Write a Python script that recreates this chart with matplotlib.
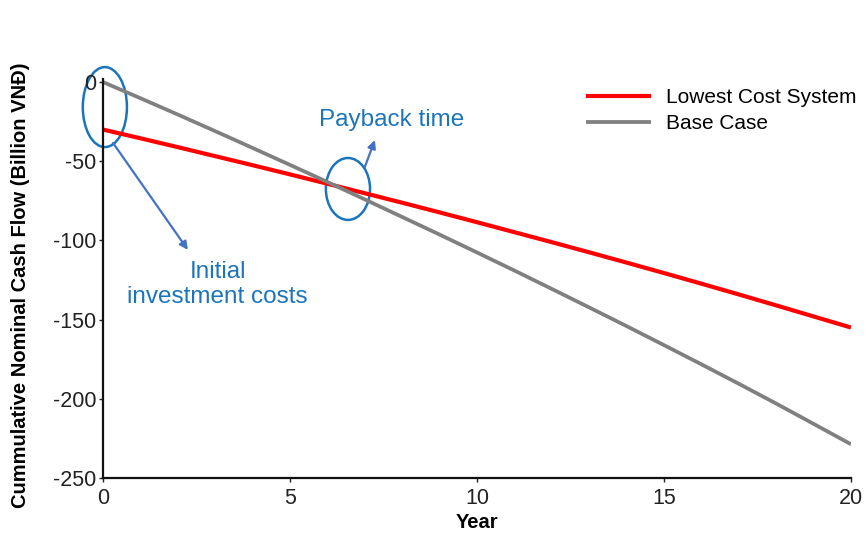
import numpy
import matplotlib
matplotlib.use("Agg")
import matplotlib.pyplot
from matplotlib.patches import Ellipse

outfile = "out.png"

years = list(range(0, 21))
# cumulative nominal cash flow, billion VND
lowest_cost = [-30.0, -35.5, -41.1, -46.8, -52.5, -58.3, -64.2, -70.2, -76.2, -82.3,
               -88.5, -94.8, -101.1, -107.5, -114.0, -120.6, -127.3, -134.1, -141.0,
               -148.0, -155.0]
base_case = [0.0, -10.2, -20.5, -31.0, -41.6, -52.3, -63.1, -74.1, -85.2, -96.3,
             -107.6, -119.0, -130.6, -142.3, -154.1, -166.1, -178.2, -190.5, -203.0,
             -215.8, -228.7]
series_labels = ["Lowest Cost System", "Base Case"]
x_ticks = [0, 5, 10, 15, 20]
y_ticks = [0, -50, -100, -150, -200, -250]

matplotlib.pyplot.rcParams["font.family"] = ["Liberation Sans", "DejaVu Sans"]
matplotlib.pyplot.rcParams["axes.unicode_minus"] = False
blue = "#1c75bc"
arrow_blue = "#4472c4"

fig = matplotlib.pyplot.figure(figsize=(8.67, 5.33), dpi=100)
ax = fig.add_axes([0.1188, 0.1032, 0.8627, 0.7488])

l1, = ax.plot(years, lowest_cost, color="#ff0000", lw=3.0, solid_capstyle="butt")
l2, = ax.plot(years, base_case, color="#808080", lw=2.7, solid_capstyle="butt")

ax.set_xlim(0, 20)
ax.set_ylim(-250, 2)
ax.set_xticks(x_ticks)
ax.set_yticks(y_ticks)
ax.tick_params(labelsize=15.5, length=3, width=1, colors="#222222")
ax.tick_params(axis="y", pad=2)
ax.tick_params(axis="x", pad=4)
for side in ["top", "right"]:
    ax.spines[side].set_visible(False)
for side in ["left", "bottom"]:
    ax.spines[side].set_linewidth(1.6)
    ax.spines[side].set_color("#111111")

ax.set_xlabel("Year", fontsize=14.5, fontweight="bold", labelpad=3)
fig.text(0.024, 0.465, "Cummulative Nominal Cash Flow (Billion VNĐ)", rotation=90,
         fontsize=14.5, fontweight="bold", ha="center", va="center")

fig.legend([l1, l2], series_labels, loc="upper left", bbox_to_anchor=(0.676, 0.835),
           frameon=False, fontsize=15, handlelength=3.1, handletextpad=0.75,
           labelspacing=0.35, borderpad=0, borderaxespad=0)

# circled regions with arrows and notes
ax.add_patch(Ellipse((0.05, -15.8), 1.18, 50.5, fill=False, edgecolor=blue,
                     lw=1.8, clip_on=False))
ax.add_patch(Ellipse((6.55, -67.5), 1.18, 39.1, fill=False, edgecolor=blue,
                     lw=1.8, clip_on=False))
ax.annotate("", xy=(2.27, -106), xytext=(0.27, -38.5),
            arrowprops=dict(arrowstyle="-|>", color=arrow_blue, lw=1.6,
                            mutation_scale=12, shrinkA=0, shrinkB=0))
ax.annotate("", xy=(7.27, -36.6), xytext=(7.0, -53.7),
            arrowprops=dict(arrowstyle="-|>", color=arrow_blue, lw=1.6,
                            mutation_scale=12, shrinkA=0, shrinkB=0))
ax.text(3.07, -128, "Initial\ninvestment costs", color=blue, fontsize=17.5,
        ha="center", va="center", linespacing=1.15)
ax.text(7.73, -24, "Payback time", color=blue, fontsize=17.5,
        ha="center", va="center")

matplotlib.pyplot.savefig(outfile, dpi=100)
print(outfile, end="")
